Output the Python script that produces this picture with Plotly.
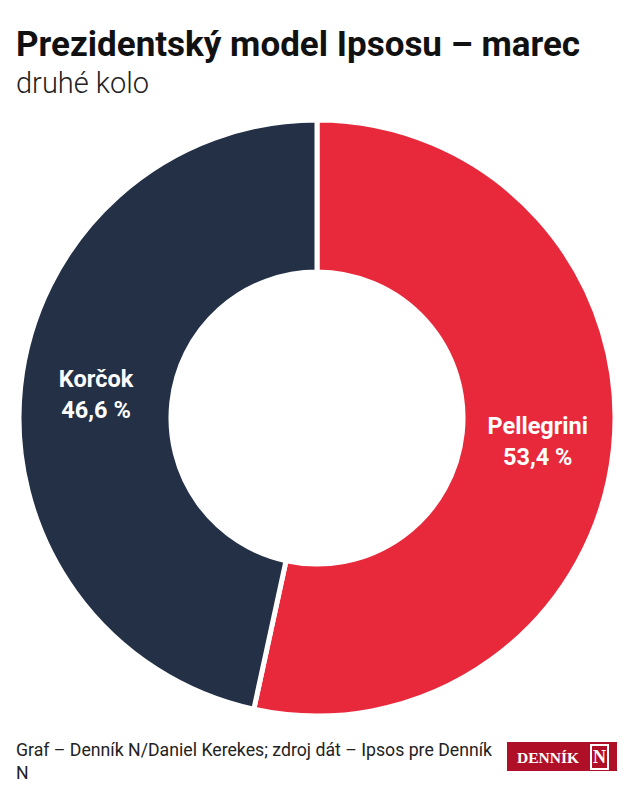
import plotly.graph_objects as go

labels = ["Pellegrini", "Korčok"]
values = [53.4, 46.6]
colors = ["#E8293B", "#233045"]

title = "Prezidentský model Ipsosu – marec"
subtitle = "druhé kolo"
source = "Graf – Denník N/Daniel Kerekes; zdroj dát – Ipsos pre Denník<br>N"

FONT = "Roboto, sans-serif"

fig = go.Figure(go.Pie(
    labels=labels,
    values=values,
    hole=0.49,
    sort=False,
    direction="clockwise",
    rotation=0,
    marker=dict(colors=colors, line=dict(color="white", width=5)),
    texttemplate="<b>%{label}</b><br><b>%{value:.1f} %</b>",
    textposition="inside",
    insidetextorientation="horizontal",
    textfont=dict(family=FONT, size=23.5, color="white"),
    showlegend=False,
    hoverinfo="label+value",
))

W, H = 632, 800
ml, mr, mt, mb = 19, 17, 120, 84
pw, ph = W - ml - mr, H - mt - mb

def px(x):
    return (x - ml) / pw

def py(y):
    return (H - mb - y) / ph

fig.update_layout(
    width=W, height=H,
    margin=dict(l=ml, r=mr, t=mt, b=mb),
    paper_bgcolor="white",
    plot_bgcolor="white",
    separators=", ",
    annotations=[
        dict(text="<b>" + title + "</b>", x=px(14), y=py(44), xref="paper", yref="paper",
             xanchor="left", yanchor="middle", showarrow=False,
             font=dict(family=FONT, size=35, color="#111111")),
        dict(text=subtitle, x=px(14), y=py(83), xref="paper", yref="paper",
             xanchor="left", yanchor="middle", showarrow=False,
             font=dict(family=FONT, size=29, color="#222222", weight=300)),
        dict(text=source, x=px(14), y=py(761), xref="paper", yref="paper",
             xanchor="left", yanchor="middle", showarrow=False, align="left",
             font=dict(family=FONT, size=17.7, color="#222222")),
        dict(text="<b>DENNÍK</b>", x=px(548), y=py(757), xref="paper", yref="paper",
             xanchor="center", yanchor="middle", showarrow=False,
             font=dict(family="Liberation Serif, DejaVu Serif, serif", size=15.5, color="white")),
        dict(text="<b>N</b>", x=px(599), y=py(757), xref="paper", yref="paper",
             xanchor="center", yanchor="middle", showarrow=False,
             bordercolor="white", borderwidth=2, borderpad=1,
             font=dict(family="Liberation Serif, DejaVu Serif, serif", size=18, color="white")),
    ],
    shapes=[
        dict(type="rect", xref="paper", yref="paper",
             x0=px(507), x1=px(617), y0=py(771), y1=py(742),
             fillcolor="#AF1028", line=dict(width=0), layer="below"),
    ],
)

fig.write_html("out.html", config={"displayModeBar": False},
               post_script="document.body.style.margin='0';")
